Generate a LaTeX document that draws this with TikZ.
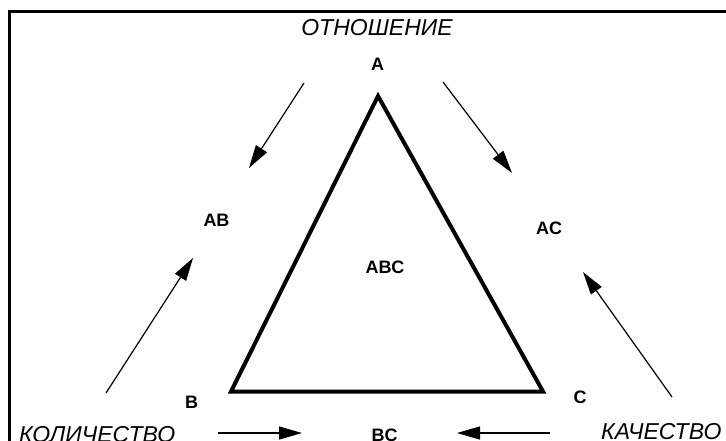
\documentclass[tikz,border=0pt]{standalone}
\usepackage{fontspec}
\setmainfont{Liberation Sans}
\usetikzlibrary{arrows.meta}
\begin{document}
\begin{tikzpicture}[x=1pt,y=-1pt,
  lbl/.style={font=\fontsize{18}{20}\selectfont\bfseries, inner sep=0pt, anchor=base},
  word/.style={font=\fontsize{23}{26}\selectfont\itshape, inner sep=0pt},
  arr/.style={line width=1.2pt, -{Triangle[length=23pt,width=13pt]}},
  tri/.style={line width=4pt, line join=miter}]
\useasboundingbox (0,0) rectangle (726,441);
\clip (0,0) rectangle (726,441);
\fill[white] (0,0) rectangle (726,441);
% frame (cut off at right and bottom)
\draw[line width=3pt] (9.3,460) -- (9.3,11.3) -- (740,11.3);
% texts
\node[word, anchor=base] (rel) at (377,35.5) {ОТНОШЕНИЕ};
\node[word, anchor=base west] (qty) at (19,442.5) {КОЛИЧЕСТВО};
\node[word, anchor=base west] (qual) at (601,439) {КАЧЕСТВО};
\node[lbl] (lA) at (377.5,71) {A};
\node[lbl] (lAB) at (216.5,226) {AB};
\node[lbl] (lAC) at (549,234) {AC};
\node[lbl] (lABC) at (385,273) {ABC};
\node[lbl] (lB) at (191.5,408) {B};
\node[lbl] (lC) at (580,403) {C};
\node[lbl] (lBC) at (384.5,441.5) {BC};
% triangle
\coordinate (A) at (378,96);
\coordinate (B) at (231,391.5);
\coordinate (C) at (543,391.5);
\draw[tri] (A) -- (B) -- (C) -- cycle;
% arrows
\coordinate (a1s) at (304,83);  \coordinate (a1e) at (249,168);
\coordinate (a2s) at (443,82);  \coordinate (a2e) at (512,173);
\coordinate (a3s) at (106,393); \coordinate (a3e) at (193,258);
\coordinate (a4s) at (672,397); \coordinate (a4e) at (583,272);
\coordinate (a5s) at (218,433); \coordinate (a5e) at (302,433);
\coordinate (a6s) at (550,433); \coordinate (a6e) at (457,433);
\draw[arr] (a1s) -- (a1e);
\draw[arr] (a2s) -- (a2e);
\draw[arr] (a3s) -- (a3e);
\draw[arr] (a4s) -- (a4e);
\draw[arr] (a5s) -- (a5e);
\draw[arr] (a6s) -- (a6e);
\end{tikzpicture}
\end{document}
